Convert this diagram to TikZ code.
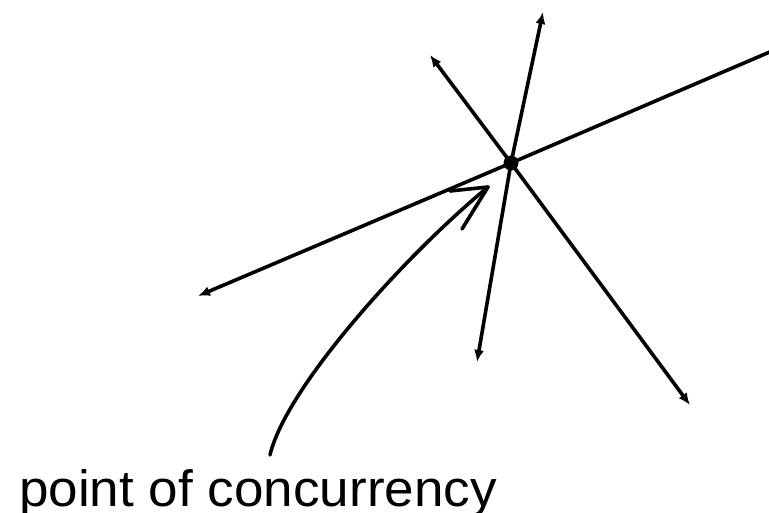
\documentclass[tikz,border=0pt]{standalone}
\usepackage{fontspec}
\setmainfont{Liberation Sans}
\usetikzlibrary{arrows.meta}
\begin{document}
\begin{tikzpicture}[x=1pt,y=-1pt,
  ray/.style={line width=3.6pt,{Latex[length=12pt,width=10pt]}-{Latex[length=12pt,width=10pt]}},
  halfray/.style={line width=3.6pt,{Latex[length=12pt,width=10pt]}-},
  pointer/.style={line width=3.6pt,line cap=round,line join=round}]
\useasboundingbox (0,0) rectangle (769,513);
\fill (511,163) circle (7.5);
\coordinate (P) at (511,163);
\coordinate (a1) at (198,296);
\coordinate (a2) at (772,51);
\coordinate (b1) at (430,55);
\coordinate (b2) at (690,405);
\coordinate (c1) at (543,12);
\coordinate (c2) at (477,362);
\draw[halfray] (a1) -- (P) -- (a2);
\draw[ray] (b1) -- (P) -- (b2);
\draw[ray] (c1) -- (P) -- (c2);
\node[anchor=base west,inner sep=0pt,xscale=1.04,font=\fontsize{51}{51}\selectfont] (lbl) at (19,506) {point of concurrency};
\coordinate (s) at (270,455);
\coordinate (t) at (488,187);
\coordinate (t1) at (450,191);
\coordinate (t2) at (462,229);
\draw[pointer] (s) .. controls (285,390) and (400,260) .. (t);
\draw[pointer] (t1) -- (t) -- (t2);
\end{tikzpicture}
\end{document}
